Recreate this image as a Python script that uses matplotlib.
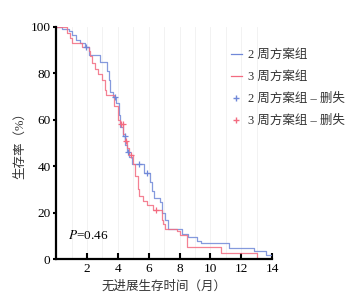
import matplotlib
matplotlib.use('Agg')
import matplotlib.pyplot as plt
from matplotlib.lines import Line2D

plt.rcParams['font.family'] = ['Liberation Serif', 'Noto Sans CJK SC']
plt.rcParams['mathtext.fontset'] = 'stix'
plt.rcParams['axes.unicode_minus'] = False

# 2 周方案组 (time in months, survival %)
t_2w = [0, 0.4, 0.8, 1.0, 1.3, 1.55, 1.85, 2.1, 2.85, 3.3, 3.4, 3.5, 3.7, 3.9, 4.05, 4.15,
        4.3, 4.45, 4.6, 4.75, 4.9, 5.7, 6.05, 6.2, 6.35, 6.75, 6.85, 7.05, 7.25, 8.15,
        8.55, 9.1, 9.4, 11.2, 12.8, 13.6, 13.9]
s_2w = [100, 99, 98, 96.5, 94.5, 93, 91.5, 88, 85, 81, 77, 72, 70, 67, 62, 57,
        53, 49, 46, 44, 41, 37, 33, 29.5, 26.5, 24.5, 20, 17, 13, 11,
        9.5, 8, 6.8, 5, 3.6, 1.8, 1.8]

# 3 周方案组
t_3w = [0, 0.7, 0.9, 1.0, 1.7, 2.1, 2.2, 2.3, 2.5, 2.7, 2.95, 3.15, 3.2, 3.75, 4.0, 4.15,
        4.3, 4.45, 4.6, 4.75, 5.0, 5.1, 5.3, 5.4, 5.6, 5.9, 6.25, 6.85, 6.95, 7.05,
        7.8, 8.05, 8.5, 10.7, 13.0]
s_3w = [100, 97.5, 95, 93, 91.5, 89.5, 87.5, 84.5, 82, 79.5, 77, 73, 70.5, 66, 60, 58,
        54, 51, 48, 45, 41, 36, 30, 27, 25, 23.5, 21, 17, 15, 12.8,
        12, 10.5, 5.3, 2.6, 0]

# censored points
cens_2w_t = [1.95, 3.8, 4.45, 4.65, 5.4, 5.9]
cens_2w_s = [91.5, 70, 53, 46, 41, 37]
cens_3w_t = [4.2, 4.3, 4.5, 4.85, 6.5]
cens_3w_s = [58, 58, 51, 45, 21]

blue = '#7088d8'
red = '#f36b80'

fig = plt.figure(figsize=(3.6, 3.01), dpi=100)
ax = fig.add_axes([0.156, 0.139, 0.6, 0.772])

ax.step(t_2w, s_2w, where='post', color=blue, lw=0.9, alpha=0.85)
ax.step(t_3w, s_3w, where='post', color=red, lw=0.9, alpha=0.85)
ax.plot(cens_2w_t, cens_2w_s, '+', color=blue, ms=5, mew=0.9)
ax.plot(cens_3w_t, cens_3w_s, '+', color=red, ms=5, mew=0.9)

ax.set_xlim(0, 14)
ax.set_ylim(0, 100)
ax.set_xticks([2, 4, 6, 8, 10, 12, 14])
ax.set_yticks([0, 20, 40, 60, 80, 100])
ax.tick_params(axis='x', direction='in', length=4, width=1.5, labelsize=9.5, pad=3)
ax.tick_params(axis='y', direction='out', length=2, width=1.5, labelsize=9.5, pad=2)
ax.set_xticks(range(1, 15), minor=True)
ax.tick_params(which='minor', length=0)
ax.grid(True, which='both', axis='x', color='#f0f0f0', lw=0.6)
ax.set_axisbelow(True)

for side in ['top', 'right']:
    ax.spines[side].set_visible(False)
for side in ['left', 'bottom']:
    ax.spines[side].set_linewidth(1.6)

ax.set_xlabel('无进展生存时间（月）', fontsize=9, color='#333333', labelpad=4)
ax.set_ylabel('生存率（%）', fontsize=9, color='#333333', labelpad=3)

ax.text(0.75, 10, r'$P$=0.46', fontsize=9.5, va='center')

handles = [
    Line2D([], [], color=blue, lw=0.9),
    Line2D([], [], color=red, lw=0.9),
    Line2D([], [], color=blue, marker='+', ls='none', ms=5),
    Line2D([], [], color=red, marker='+', ls='none', ms=5),
]
labels = ['2 周方案组', '3 周方案组', '2 周方案组 – 删失', '3 周方案组 – 删失']
fig.legend(handles, labels, loc='upper left', bbox_to_anchor=(0.61, 0.875),
           frameon=False, fontsize=9, handlelength=0.9, handletextpad=0.5,
           labelspacing=0.8, labelcolor='#333333')

fig.savefig('out.png', dpi=100)
